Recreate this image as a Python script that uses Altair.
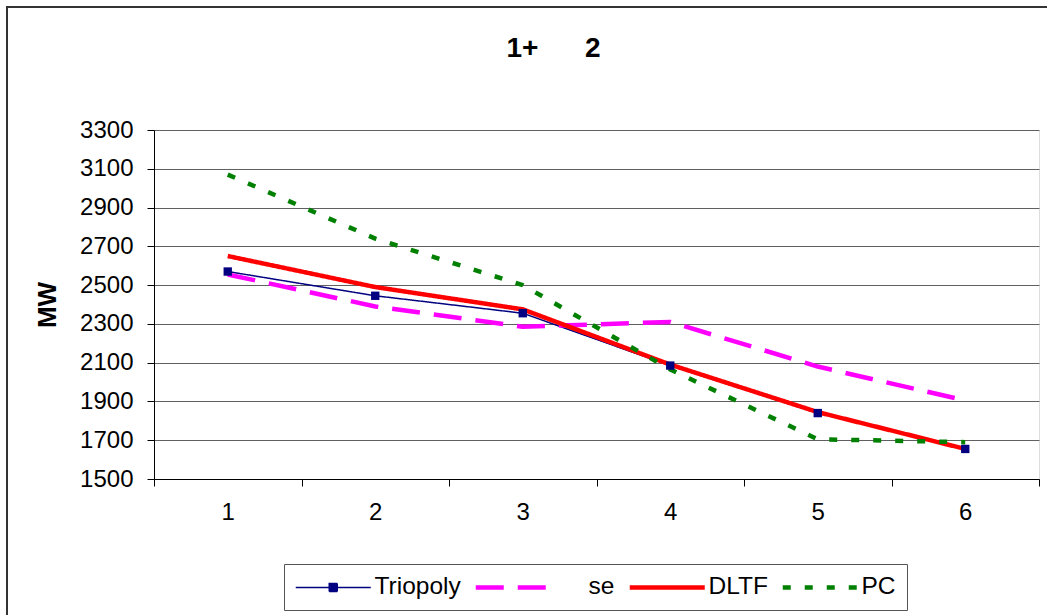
import altair as alt
import pandas as pd

categories = ["1", "2", "3", "4", "5", "6"]
series_names = ["Triopoly", "se", "DLTF", "PC"]
triopoly = [2570, 2445, 2355, 2085, 1840, 1655]
se = [2555, 2390, 2285, 2310, 2080, 1905]
dltf = [2650, 2490, 2375, 2090, 1845, 1655]
pc = [3070, 2740, 2500, 2065, 1705, 1690]
y_ticks = [1500, 1700, 1900, 2100, 2300, 2500, 2700, 2900, 3100, 3300]

colors = ["#000080", "#FF00FF", "#FF0000", "#008000"]
dashes = [[1, 0], [28, 14], [1, 0], [8, 14]]
widths = [1.5, 4.5, 4.5, 4.5]

rows = []
for name, vals in zip(series_names, [triopoly, se, dltf, pc]):
    for c, v in zip(categories, vals):
        rows.append({"x": c, "series": name, "MW": v})
df = pd.DataFrame(rows)

FONT = "Liberation Sans"

x_enc = alt.X(
    "x:O",
    scale=alt.Scale(type="band", paddingInner=0, paddingOuter=0),
    bandPosition=0.5,
    axis=alt.Axis(
        title=None, labelAngle=0, tickBand="extent", grid=False,
        labelFontSize=24, labelFont=FONT, labelColor="black", labelPadding=14,
        tickSize=7, tickColor="black", domainColor="black", labelFontWeight="normal",
    ),
)
y_enc = alt.Y(
    "MW:Q",
    scale=alt.Scale(domain=[1500, 3300], nice=False, zero=False),
    axis=alt.Axis(
        title="MW", values=y_ticks, format="d", titleFontSize=26, titleFont=FONT,
        titleFontWeight="bold", titleColor="black", titlePadding=19,
        labelFontSize=24, labelFont=FONT, labelColor="black", labelPadding=14,
        tickSize=7, tickColor="black", domainColor="black",
        grid=True, gridColor="#606060", gridWidth=1,
    ),
)

line_path = "M-3.75,0H3.75"
tri_path = "M-3.75,0H3.75M-0.4,-0.4H0.4V0.4H-0.4Z"
legend = alt.Legend(
    title=None, orient="none", legendX=130, legendY=434, direction="horizontal",
    columns=4, symbolSize=400, symbolOffset=26,
    symbolType={"expr": f"datum.value == 'Triopoly' ? '{tri_path}' : '{line_path}'"},
    symbolStrokeWidth={"expr": "datum.value == 'Triopoly' ? 1.5 : 4.5"},
    symbolFillColor={"expr": "datum.value == 'Triopoly' ? '#000080' : 'transparent'"},
    labelFontSize=24.5, labelFont=FONT, labelColor="black", labelOffset=29,
    columnPadding=5, padding=11, strokeColor="#555555",
    labelExpr="datum.label == 'se' ? '\u200b\u00a0\u00a0\u00a0\u00a0\u00a0se' : datum.label",
)

color_enc = alt.Color("series:N", scale=alt.Scale(domain=series_names, range=colors), legend=legend)
dash_enc = alt.StrokeDash("series:N", scale=alt.Scale(domain=series_names, range=dashes), legend=legend)

base = alt.Chart(df)
layers = []
for name, w in zip(series_names, widths):
    layers.append(
        base.mark_line(strokeCap="butt", strokeJoin="round", strokeWidth=w)
        .encode(x=x_enc, y=y_enc, color=color_enc, strokeDash=dash_enc)
        .transform_filter(alt.datum.series == name)
    )

points = (
    base.mark_square(size=70, opacity=1, color="#000080")
    .encode(x=x_enc, y=y_enc)
    .transform_filter(alt.datum.series == "Triopoly")
)

frame = alt.Chart(alt.Data(values=[{"a": 1}])).mark_rect(
    fill=None, stroke="#333333", strokeWidth=2, clip=False
).encode(
    x=alt.value(-147), x2=alt.value(1000), y=alt.value(-123), y2=alt.value(600)
)

chart = alt.layer(frame, *layers, points).properties(
    width=885,
    height=349,
    title=alt.TitleParams(
        text="1+\u00a0\u00a0\u00a0\u00a0\u00a0\u00a02", fontSize=28, font=FONT,
        fontWeight="bold", color="black", anchor="middle", dx=-43, offset=-79,
        frame="group", baseline="alphabetic",
    ),
    padding={"left": 154, "top": 130, "right": 8, "bottom": 136},
    autosize=alt.AutoSizeParams(type="none"),
).configure_view(stroke="#a0a0a0", strokeWidth=1).configure(background="white")

chart.save("out.html", embed_options={"renderer": "svg", "actions": False})
